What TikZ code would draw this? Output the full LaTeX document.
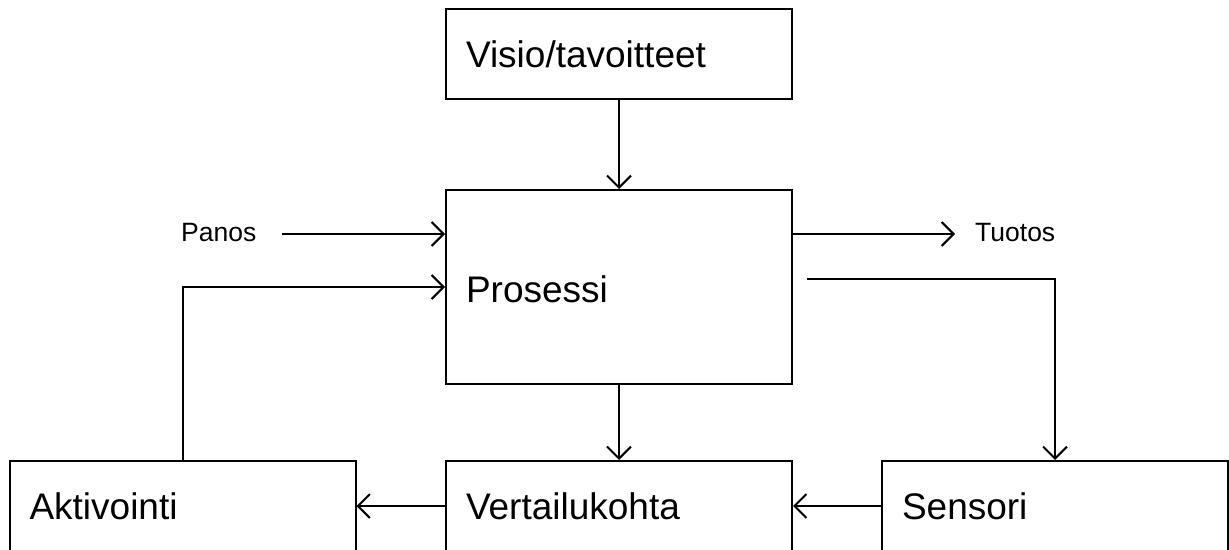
\documentclass[tikz,border=0pt]{standalone}
\usepackage{fontspec}
\setmainfont{Liberation Sans}
\usetikzlibrary{arrows.meta}
\tikzset{
  blk/.style={draw, line width=2pt, rectangle, minimum width=346pt, minimum height=90pt,
    text width=306pt, align=left, inner xsep=20pt, font=\fontsize{37}{41}\selectfont},
  tall/.style={blk, minimum height=194pt, text height=38pt, text depth=8pt},
  lbl/.style={font=\fontsize{26.5}{30}\selectfont, inner sep=0pt},
  arr/.style={line width=2pt, -{Straight Barb[length=12pt,width=24pt,line width=2pt]}},
  ln/.style={line width=2pt}
}
\begin{document}
\begin{tikzpicture}[x=1pt,y=-1pt]
\useasboundingbox[fill=white] (0,0) rectangle (1229,549);
\clip (0,0) rectangle (1229,549);
\node[blk] (vis) at (619,54) {Visio/tavoitteet};
\node[tall] (pro) at (619,287) {Prosessi};
\node[blk] (akt) at (182.5,506) {Aktivointi};
\node[blk] (ver) at (619,506) {Vertailukohta};
\node[blk] (sen) at (1055,506) {Sensori};
\node[lbl, anchor=west] (panos) at (181,233) {Panos};
\node[lbl, anchor=west] (tuotos) at (975,233) {Tuotos};
\coordinate (pin) at (282,234);
\coordinate (pout) at (955,234);
\coordinate (sstart) at (807,279);
\draw[arr] (vis.south) -- (pro.north);
\draw[arr] (pin) -- (pin -| pro.west);
\draw[arr] (pout -| pro.east) -- (pout);
\draw[arr] (sstart) -| (sen.north);
\draw[arr] (akt.north) |- (pro.west);
\draw[arr] (pro.south) -- (ver.north);
\draw[arr] (sen.west) -- (ver.east);
\draw[arr] (ver.west) -- (akt.east);
\end{tikzpicture}
\end{document}
